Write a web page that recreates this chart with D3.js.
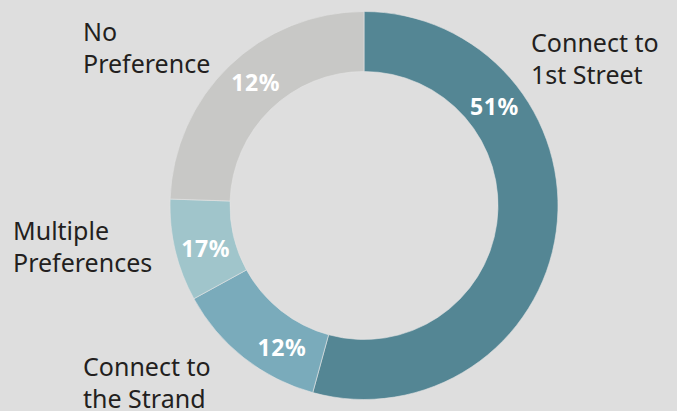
<!DOCTYPE html>
<html>
<head>
<meta charset="utf-8">
<script src="https://cdn.jsdelivr.net/npm/d3@7"></script>
<style>
  html, body { margin: 0; padding: 0; background: #dedede; }
  svg { display: block; }
</style>
</head>
<body>
<div id="chart"></div>
<script>
// Data
const categories = ["Connect to 1st Street", "Connect to the Strand", "Multiple Preferences", "No Preference"];
const values = [51, 12, 8, 23];            // slice sizes as drawn
const pctLabels = ["51%", "12%", "17%", "12%"]; // labels as printed on the slices
const colors = ["#548694", "#7aabbb", "#a0c5cb", "#c8c8c6"];

// layout: where each percent label sits along its slice (0 = start, 1 = end)
const labelAlong = [0.27, 0.32, 0.45, 0.53];
// layout: category label anchors (left x, first baseline)
const catPos = [[531, 52], [83, 376], [13, 240], [83, 41]];
const catLines = [["Connect to", "1st Street"], ["Connect to", "the Strand"], ["Multiple", "Preferences"], ["No", "Preference"]];

const width = 677, height = 411;
const cx = 364, cy = 205.5, outerR = 194, innerR = 134;

const svg = d3.select("#chart")
    .append("svg")
    .attr("width", width)
    .attr("height", height);

svg.append("rect")
    .attr("width", width)
    .attr("height", height)
    .attr("fill", "#dedede");

const g = svg.append("g")
    .attr("transform", "translate(" + cx + "," + cy + ")");

const pie = d3.pie().sort(null).value(d => d)(values);
const arc = d3.arc().innerRadius(innerR).outerRadius(outerR);

// slices
g.selectAll("path.slice")
    .data(pie)
    .enter()
    .append("path")
    .attr("class", "slice")
    .attr("d", arc)
    .attr("fill", (d, i) => colors[i])
    .attr("stroke", "#e4e4e4")
    .attr("stroke-width", 0.6);

// percent labels
const midR = (innerR + outerR) / 2;
g.selectAll("text.pct")
    .data(pie)
    .enter()
    .append("text")
    .attr("class", "pct")
    .attr("x", (d, i) => {
        const a = d.startAngle + (d.endAngle - d.startAngle) * labelAlong[i];
        return Math.sin(a) * midR;
    })
    .attr("y", (d, i) => {
        const a = d.startAngle + (d.endAngle - d.startAngle) * labelAlong[i];
        return -Math.cos(a) * midR;
    })
    .attr("text-anchor", "middle")
    .attr("dominant-baseline", "central")
    .style("font-family", "'Noto Sans', sans-serif")
    .style("font-weight", "bold")
    .style("font-size", "23px")
    .style("letter-spacing", "0.6px")
    .style("fill", "#ffffff")
    .text((d, i) => pctLabels[i]);

// category labels
categories.forEach((c, i) => {
    const t = svg.append("text")
        .attr("x", catPos[i][0])
        .attr("y", catPos[i][1])
        .style("font-family", "'Noto Sans', sans-serif")
        .style("font-size", "25px")
        .style("fill", "#231f20");
    catLines[i].forEach((line, j) => {
        t.append("tspan")
            .attr("x", catPos[i][0])
            .attr("dy", j === 0 ? 0 : 31.5)
            .text(line);
    });
});
</script>
</body>
</html>
